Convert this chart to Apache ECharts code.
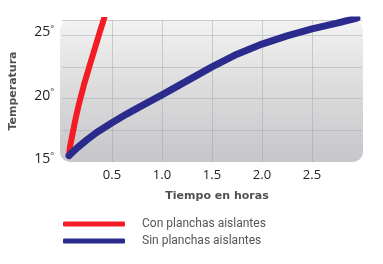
<!DOCTYPE html>
<html><head><meta charset="utf-8">
<script src="https://cdn.jsdelivr.net/npm/echarts@6/dist/echarts.min.js"></script>
<style>html,body{margin:0;padding:0;background:#fff}#c{width:383px;height:264px}</style>
</head><body><div id="c"></div>
<script>
// Data
const seriesNames = ['Con planchas aislantes', 'Sin planchas aislantes'];
const conPlanchas = [[0.07,15.5],[0.08,16.2],[0.1,17.0],[0.13,18.2],[0.17,19.6],[0.22,21.1],[0.28,22.7],[0.33,24.0],[0.38,25.3],[0.44,26.8]];
const sinPlanchas = [[0.07,15.5],[0.15,16.1],[0.25,16.75],[0.35,17.35],[0.5,18.1],[0.65,18.8],[0.8,19.45],[1.0,20.3],[1.25,21.4],[1.5,22.5],[1.75,23.5],[2.0,24.3],[2.25,24.95],[2.5,25.5],[2.75,25.95],[2.95,26.35]];
const xLabels = [0.5, 1.0, 1.5, 2.0, 2.5];
const yLabels = [15, 20, 25];
const xName = 'Tiempo en horas';
const yName = 'Temperatura';

const chart = echarts.init(document.getElementById('c'), null, {renderer: 'canvas'});
const gridC = 'rgba(160,160,175,0.45)';
chart.setOption({
  animation: false,
  graphic: [{
    type: 'rect', z: -10, silent: true,
    shape: {x: 60, y: 20, width: 303, height: 142, r: 10},
    style: {fill: new echarts.graphic.LinearGradient(0,0,0,1,[
      {offset:0,color:'#f2f2f2'},{offset:0.5,color:'#dbdbdb'},{offset:1,color:'#c6c6cb'}])}
  }],
  grid: {left: 62, top: 20, width: 300, height: 142},
  xAxis: {
    type: 'value', min: 0, max: 3, interval: 0.5,
    axisLine: {show: false}, axisTick: {show: false},
    splitLine: {show: true, lineStyle: {color: ['rgba(0,0,0,0)', gridC, gridC, gridC, gridC, gridC, 'rgba(0,0,0,0)'], width: 1}},
    axisLabel: {
      margin: 7, color: '#222', fontFamily: 'Open Sans', fontSize: 13,
      formatter: v => (xLabels.some(l => Math.abs(l - v) < 1e-6) ? v.toFixed(1) : '')
    },
    name: xName, nameLocation: 'middle', nameGap: 29,
    nameTextStyle: {color: '#505050', fontFamily: 'DejaVu Sans', fontWeight: 'bold', fontSize: 11, padding: [0,0,0,10]}
  },
  yAxis: {
    type: 'value', min: 15, max: 26.2, interval: 2.5,
    axisLine: {show: false}, axisTick: {show: false},
    splitLine: {show: true, lineStyle: {color: ['rgba(0,0,0,0)', gridC, gridC, gridC, gridC, 'rgba(190,190,190,0.8)'], width: 1}},
    axisLabel: {
      margin: 8, showMaxLabel: false, padding: [0,0,6,0],
      formatter: v => (yLabels.indexOf(v) >= 0 ? '{n|' + v + '}{d|°}' : ''),
      rich: {
        n: {color: '#222', fontFamily: 'Open Sans', fontSize: 14},
        d: {color: '#222', fontFamily: 'Open Sans', fontSize: 9, verticalAlign: 'top', padding: [0,0,6,0]}
      }
    },
    name: yName, nameLocation: 'middle', nameGap: 43,
    nameTextStyle: {color: '#505050', fontFamily: 'DejaVu Sans', fontWeight: 'bold', fontSize: 11}
  },
  legend: {
    left: 58, top: 212, orient: 'vertical', itemGap: 3,
    itemWidth: 62, itemHeight: 5, icon: 'roundRect',
    textStyle: {color: '#555', fontFamily: 'Roboto', fontSize: 12, lineHeight: 14, padding: [0,0,0,12]},
    data: seriesNames
  },
  series: [
    {name: seriesNames[0], type: 'line', data: conPlanchas, smooth: false, showSymbol: false,
     color: '#f41c24', lineStyle: {width: 6, color: '#f41c24', cap: 'round', join: 'round'}, z: 3},
    {name: seriesNames[1], type: 'line', data: sinPlanchas, smooth: false, showSymbol: false,
     color: '#2b2b8e', lineStyle: {width: 7, color: '#2b2b8e', cap: 'round', join: 'round'}, z: 4}
  ]
});
</script></body></html>
